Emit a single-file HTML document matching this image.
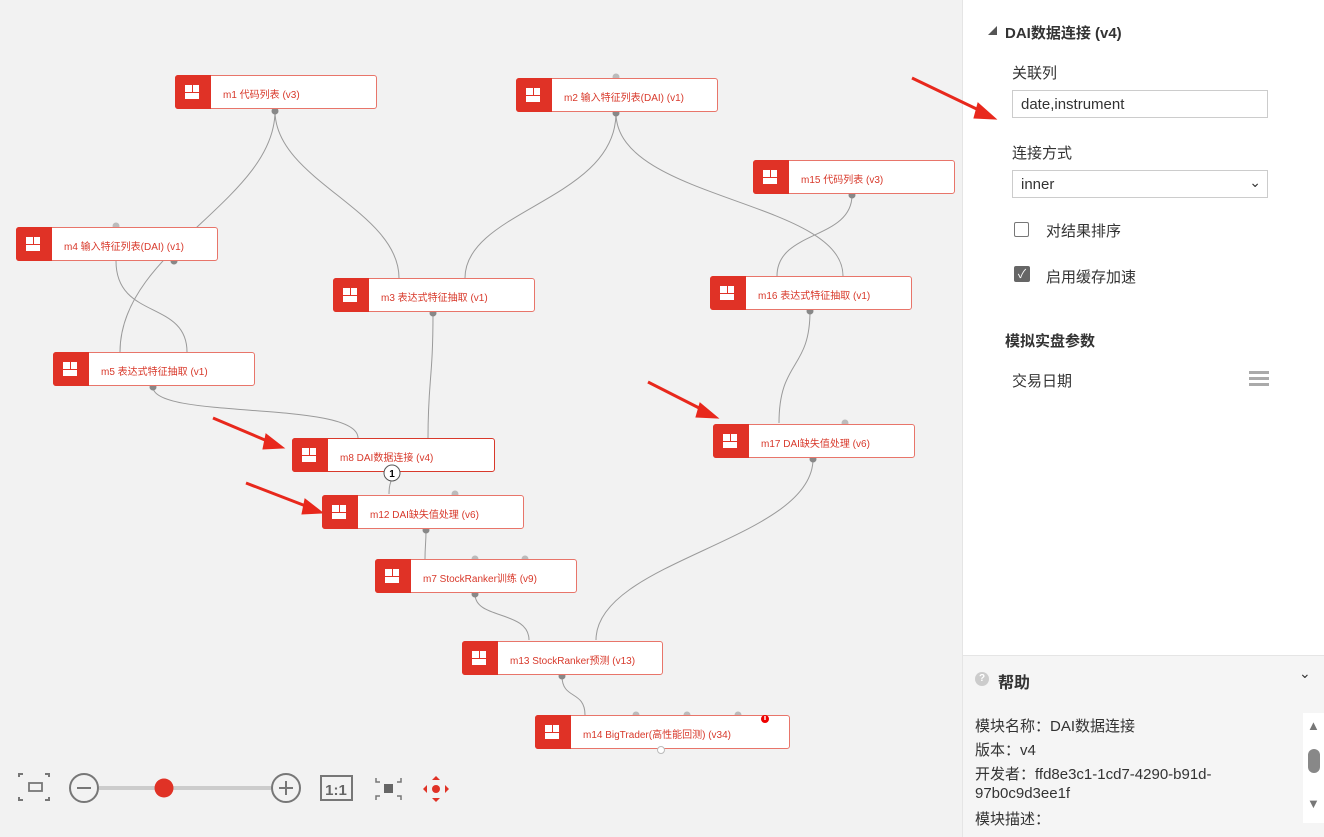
<!DOCTYPE html>
<html><head><meta charset="utf-8"><style>
body{margin:0;width:1324px;height:836px;overflow:hidden;background:#f2f2f2;font-family:"Liberation Sans","Noto Sans CJK SC",sans-serif;position:relative}
.n{position:absolute;height:34px;background:#fff;border:1px solid #e8756a;border-radius:3px;box-sizing:border-box}
.n .ic{position:absolute;left:-1px;top:-1px;bottom:-1px;width:36px;background:#e03226;border-radius:3px 0 0 3px}
.n .ic:after{content:"";position:absolute;left:10px;top:10px;width:14px;height:14px;background:linear-gradient(#e03226,#e03226) 7px 0/1px 7px no-repeat,linear-gradient(#e03226,#e03226) 0 7px/14px 1px no-repeat,#fff}
.n span{position:absolute;left:47px;top:10px;font-size:10px;color:#d8392b;white-space:nowrap}
.p{position:absolute;background:#fff;font-size:15px;color:#333}
.t{position:absolute;white-space:nowrap}
</style></head><body>
<svg width="962" height="836" style="position:absolute;left:0;top:0">
<g fill="none" stroke="#9a9a9a" stroke-width="1">
<path d="M275,111 C275,200 120,250 120,352"/>
<path d="M275,111 C275,180 399,210 399,278"/>
<path d="M616,113 C616,200 465,210 465,278"/>
<path d="M616,113 C616,200 843,200 843,276"/>
<path d="M852,195 C852,240 777,230 777,276"/>
<path d="M116,261 C116,320 187,300 187,352"/>
<path d="M153,387 C153,420 358,400 358,438"/>
<path d="M433,313 C433,380 428,380 428,438"/>
<path d="M810,311 C810,370 779,360 779,423"/>
<path d="M392,473 C392,485 389,480 389,494"/>
<path d="M426,530 C426,545 425,545 425,559"/>
<path d="M475,594 C475,620 529,610 529,640"/>
<path d="M813,459 C813,540 596,560 596,640"/>
<path d="M562,676 C562,700 585,690 585,715"/>
</g>
<g fill="#888">
<circle cx="275" cy="111" r="3.5"/><circle cx="616" cy="113" r="3.5"/><circle cx="852" cy="195" r="3.5"/>
<circle cx="174" cy="261" r="3.5"/><circle cx="433" cy="313" r="3.5"/><circle cx="810" cy="311" r="3.5"/>
<circle cx="153" cy="387" r="3.5"/><circle cx="813" cy="459" r="3.5"/><circle cx="426" cy="530" r="3.5"/>
<circle cx="475" cy="594" r="3.5"/><circle cx="562" cy="676" r="3.5"/>
</g>
<g fill="#bbb"><circle cx="616" cy="77" r="3.5"/><circle cx="116" cy="226" r="3.5"/><circle cx="845" cy="423" r="3.5"/><circle cx="455" cy="494" r="3.5"/><circle cx="475" cy="559" r="3.5"/><circle cx="525" cy="559" r="3.5"/><circle cx="636" cy="715" r="3.5"/><circle cx="687" cy="715" r="3.5"/><circle cx="738" cy="715" r="3.5"/></g>
<g stroke="#e8281c" fill="#e8281c">
<path d="M648,382 L707,412" stroke-width="3"/><path d="M718,418 L700,403 L696,417Z"/>
<path d="M213,418 L272,443" stroke-width="3"/><path d="M284,448 L266,434 L263,449Z"/>
<path d="M246,483 L311,508" stroke-width="3"/><path d="M323,513 L305,499 L302,514Z"/>
</g>
</svg>
<div class="n" style="left:175px;top:75px;width:202px"><div class="ic"></div><span>m1 代码列表 (v3)</span></div>
<div class="n" style="left:516px;top:78px;width:202px"><div class="ic"></div><span>m2 输入特征列表(DAI) (v1)</span></div>
<div class="n" style="left:753px;top:160px;width:202px"><div class="ic"></div><span>m15 代码列表 (v3)</span></div>
<div class="n" style="left:16px;top:227px;width:202px"><div class="ic"></div><span>m4 输入特征列表(DAI) (v1)</span></div>
<div class="n" style="left:333px;top:278px;width:202px"><div class="ic"></div><span>m3 表达式特征抽取 (v1)</span></div>
<div class="n" style="left:710px;top:276px;width:202px"><div class="ic"></div><span>m16 表达式特征抽取 (v1)</span></div>
<div class="n" style="left:53px;top:352px;width:202px"><div class="ic"></div><span>m5 表达式特征抽取 (v1)</span></div>
<div class="n" style="left:292px;top:438px;width:203px;border-color:#d8392b"><div class="ic"></div><span>m8 DAI数据连接 (v4)</span></div>
<div class="n" style="left:713px;top:424px;width:202px"><div class="ic"></div><span>m17 DAI缺失值处理 (v6)</span></div>
<div class="n" style="left:322px;top:495px;width:202px"><div class="ic"></div><span>m12 DAI缺失值处理 (v6)</span></div>
<div class="n" style="left:375px;top:559px;width:202px"><div class="ic"></div><span>m7 StockRanker训练 (v9)</span></div>
<div class="n" style="left:462px;top:641px;width:201px"><div class="ic"></div><span>m13 StockRanker预测 (v13)</span></div>
<div class="n" style="left:535px;top:715px;width:255px"><div class="ic"></div><span>m14 BigTrader(高性能回测) (v34)</span></div>
<svg width="962" height="836" style="position:absolute;left:0;top:0">
<circle cx="392" cy="473" r="8" fill="#fff" stroke="#555"/><text x="392" y="477" font-size="10" text-anchor="middle" font-family="Liberation Sans" font-weight="bold">1</text>
<circle cx="661" cy="750" r="3.5" fill="#fff" stroke="#bbb"/>
<circle cx="765" cy="719" r="4" fill="#e00"/><rect x="764.3" y="716" width="1.4" height="4" fill="#fff"/>
<g stroke="#777" stroke-width="2" fill="none">
<path d="M19,777v-3h4M45,774h4v3M19,797v3h4M45,800h4v-3"/><rect x="29" y="783" width="13" height="8" stroke-width="1.8"/>
<circle cx="84" cy="788" r="14"/><path d="M77,788h14"/>
<circle cx="286" cy="788" r="14"/><path d="M279,788h14M286,781v14"/>
<rect x="321" y="776" width="31" height="24"/>
<path d="M376,778v4h4M401,778v4h-4M376,800v-4h4M401,800v-4h-4" stroke-width="1.5"/>
</g>
<rect x="99" y="786" width="172" height="4" fill="#ccc"/>
<circle cx="164" cy="788" r="9.5" fill="#e03226"/>
<text x="336" y="795" font-size="15" font-weight="bold" text-anchor="middle" fill="#666" font-family="Liberation Sans">1:1</text>
<rect x="384" y="784" width="9" height="9" fill="#666"/>
<g fill="#e03226"><circle cx="436" cy="789" r="4"/><path d="M436,776l4,4h-8zM436,802l4,-4h-8zM423,789l4,4v-8zM449,789l-4,4v-8z"/></g>
</svg>
<div class="p" style="left:962px;top:0;width:362px;height:655px;border-left:1px solid #e5e5e5">
<div class="t" style="left:25px;top:24px;font-size:9px;color:#555">◢</div>
<div class="t" style="left:42px;top:22px;font-weight:bold;color:#333">DAI数据连接 (v4)</div>
<div class="t" style="left:49px;top:62px">关联列</div>
<div style="position:absolute;left:49px;top:90px;width:256px;height:28px;border:1px solid #ccc;box-sizing:border-box"><span class="t" style="left:8px;top:5px">date,instrument</span></div>
<div class="t" style="left:49px;top:142px">连接方式</div>
<div style="position:absolute;left:49px;top:170px;width:256px;height:28px;border:1px solid #ccc;box-sizing:border-box"><span class="t" style="left:8px;top:5px">inner</span><span class="t" style="right:6px;top:3px;font-size:14px">⌄</span></div>
<div style="position:absolute;left:51px;top:222px;width:15px;height:15px;border:1px solid #777;border-radius:2px;box-sizing:border-box"></div>
<div class="t" style="left:83px;top:220px">对结果排序</div>
<div style="position:absolute;left:51px;top:266px;width:16px;height:16px;background:#666;border-radius:2px;color:#fff;font-size:12px;text-align:center;line-height:16px">✓</div>
<div class="t" style="left:83px;top:266px">启用缓存加速</div>
<div class="t" style="left:42px;top:330px;font-weight:bold">模拟实盘参数</div>
<div class="t" style="left:49px;top:370px">交易日期</div>
<div style="position:absolute;left:286px;top:371px;width:20px;height:15px;background:linear-gradient(#aaa,#aaa) 0 0/20px 3px no-repeat,linear-gradient(#aaa,#aaa) 0 6px/20px 3px no-repeat,linear-gradient(#aaa,#aaa) 0 12px/20px 3px no-repeat"></div>
</div>
<div style="position:absolute;left:962px;top:655px;width:362px;height:181px;background:#f5f5f5;border-top:1px solid #e5e5e5;border-left:1px solid #e5e5e5;font-size:15px;color:#333">
<div style="position:absolute;left:12px;top:16px;width:14px;height:14px;border-radius:50%;background:#ccc;color:#fff;font-size:10px;text-align:center;line-height:14px;font-weight:bold">?</div>
<div class="t" style="left:35px;top:13px;font-weight:bold;font-size:16px">帮助</div>
<div class="t" style="left:336px;top:9px;font-size:14px">⌄</div>
<div class="t" style="left:12px;top:59px">模块名称：DAI数据连接</div>
<div class="t" style="left:12px;top:83px">版本：v4</div>
<div class="t" style="left:12px;top:107px">开发者：ffd8e3c1-1cd7-4290-b91d-</div>
<div class="t" style="left:12px;top:129px">97b0c9d3ee1f</div>
<div class="t" style="left:12px;top:152px">模块描述：</div>
<div style="position:absolute;left:340px;top:57px;width:22px;height:110px;background:#fff"></div>
<div class="t" style="left:344px;top:62px;font-size:13px;color:#777">▲</div>
<div style="position:absolute;left:345px;top:93px;width:12px;height:24px;border-radius:6px;background:#888"></div>
<div class="t" style="left:344px;top:140px;font-size:13px;color:#777">▼</div>
</div>
<svg width="1324" height="836" style="position:absolute;left:0;top:0;pointer-events:none">
<g stroke="#e8281c" fill="#e8281c">
<path d="M912,78 L985,113" stroke-width="3"/><path d="M996,119 L978,103 L974,118Z"/>
</g>
</svg>
</body></html>
